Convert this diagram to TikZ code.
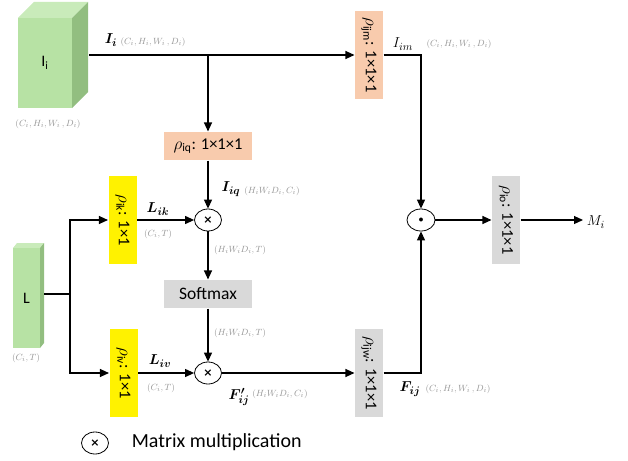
\documentclass[tikz,border=0pt]{standalone}
\usepackage{fontspec}
\setmainfont{Carlito}
\newfontfamily\symfont{DejaVu Sans}
\usepackage{amsmath}
\usepackage{graphicx}
\usetikzlibrary{arrows.meta,shapes.geometric}
\definecolor{salmon}{HTML}{F8CBAD}
\definecolor{lightgray}{HTML}{D9D9D9}
\definecolor{dimtext}{HTML}{969696}
\definecolor{cubefront}{HTML}{B7E2A4}
\definecolor{cubetop}{HTML}{C9EBBA}
\definecolor{cubeside}{HTML}{92BE80}
\newcommand{\mulsign}{{\symfont\bfseries\fontsize{11}{11}\selectfont ×}}

\begin{document}
\begin{tikzpicture}[x=1pt,y=-1pt,->,>={Triangle[length=9pt,width=8pt]},line width=1.1pt,
  conv/.style={inner sep=0pt,font=\fontsize{16.5}{18}\selectfont},
  hconv/.style={conv,minimum width=88pt,minimum height=28pt},
  vconv/.style={conv,minimum width=28pt,minimum height=88pt},
  op/.style={ellipse,draw,line width=0.8pt,fill=white,minimum width=27pt,minimum height=22pt,inner sep=0pt},
  dims/.style={text=dimtext,font=\fontsize{9.5}{10}\selectfont},
  lbl/.style={font=\fontsize{15}{17}\selectfont}]

      \useasboundingbox (0,0) rectangle (628,460);

      % input cubes
      \fill[cubetop] (18,18) -- (72,18) -- (88,2) -- (34,2) -- cycle;
      \fill[cubeside] (72,18) -- (88,2) -- (88,92) -- (72,108) -- cycle;
      \node[fill=cubefront,minimum width=54pt,minimum height=90pt,inner sep=0pt,font=\fontsize{16}{18}\selectfont] at (45,63) (Ii) {I\textsubscript{i}};
      \node[dims] at (48,124) (Iidim) {$(C_i,H_i,W_i\,,D_i)$};
      \coordinate (Iiout) at (89,55);

      \fill[cubetop] (13,248) -- (40,248) -- (44,243) -- (17,243) -- cycle;
      \fill[cubeside] (40,248) -- (44,243) -- (44,343) -- (40,348) -- cycle;
      \node[fill=cubefront,minimum width=27pt,minimum height=100pt,inner sep=0pt,font=\fontsize{16}{18}\selectfont] at (26.5,298) (L) {L};
      \node[dims] at (26,358) (Ldim) {$(C_i,T)$};
      \coordinate (Lout) at (44,294);
      \coordinate (fork) at (70,294);

      % conv blocks
      \node[vconv,fill=salmon] at (369,55) (ijm) {\rotatebox{-90}{$\rho$\textsubscript{ijm}: 1×1×1}};
      \node[hconv,fill=salmon] at (208,146) (iq) {$\rho$\textsubscript{iq}: 1×1×1};
      \node[vconv,fill=yellow] at (122.5,220) (ik) {\rotatebox{-90}{$\rho$\textsubscript{ik}: 1×1}};
      \node[vconv,fill=yellow] at (123.5,373) (iv) {\rotatebox{-90}{$\rho$\textsubscript{iv}: 1×1}};
      \node[hconv,fill=lightgray,font=\fontsize{17.5}{19}\selectfont] at (208,294) (softmax) {Softmax};
      \node[vconv,fill=lightgray] at (369,373) (ijw) {\rotatebox{-90}{$\rho$\textsubscript{ijw}: 1×1×1}};
      \node[vconv,fill=lightgray] at (506,220) (io) {\rotatebox{-90}{$\rho$\textsubscript{io}: 1×1×1}};

      % operators
      \node[op] at (208,220) (mul1) {\mulsign};
      \node[op] at (208,373) (mul2) {\mulsign};
      \node[op,minimum width=28pt] at (421,220) (odot) {$\bullet$};
      \node[lbl,anchor=west] at (583,222) (Mi) {$M_i$};
      \coordinate (split) at (208,55);

      % labels
      \node[lbl] at (111,40) (Iilbl) {$\boldsymbol{I_i}$};
      \node[dims] at (153,42) (Iilbldim) {$(C_i,H_i,W_i\,,D_i)$};
      \node[lbl] at (403,44) (Iimlbl) {$I_{im}$};
      \node[dims] at (459,44) (Iimdim) {$(C_i,H_i,W_i\,,D_i)$};
      \node[lbl] at (231,189) (Iiqlbl) {$\boldsymbol{I_{iq}}$};
      \node[dims] at (272,191) (Iiqdim) {$(H_iW_iD_i,C_i)$};
      \node[lbl] at (158,209) (Liklbl) {$\boldsymbol{L_{ik}}$};
      \node[dims] at (158,234) (Likdim) {$(C_i,T)$};
      \node[dims] at (240,250) (mul1dim) {$(H_iW_iD_i,T)$};
      \node[dims] at (240,333) (softdim) {$(H_iW_iD_i,T)$};
      \node[lbl] at (160,361) (Livlbl) {$\boldsymbol{L_{iv}}$};
      \node[dims] at (161,388) (Livdim) {$(C_i,T)$};
      \node[lbl] at (239,397) (Fplbl) {$\boldsymbol{F'_{ij}}$};
      \node[dims] at (280,394) (Fpdim) {$(H_iW_iD_i,C_i)$};
      \node[lbl] at (410,389) (Flbl) {$\boldsymbol{F_{ij}}$};
      \node[dims] at (458,389) (Fdim) {$(C_i,H_i,W_i\,,D_i)$};

      % legend
      \node[op] at (95,443) (legop) {\mulsign};
      \node[anchor=west,font=\fontsize{20}{24}\selectfont] at (128,442) (legtxt) {Matrix multiplication};

      % connectors
      \draw[-] (Iiout) -- (split);
      \draw (split) -- (ijm);
      \draw (split) -- (iq);
      \draw (ijm.east) -| (odot.north);
      \draw (odot) -- (io);
      \draw (io) -- (io -| Mi.west);
      \draw (iq) -- (mul1);
      \draw (ik) -- (mul1);
      \draw (mul1) -- (softmax);
      \draw (softmax) -- (mul2);
      \draw (iv) -- (mul2);
      \draw (mul2) -- (ijw);
      \draw (ijw.east) -| (odot.south);
      \draw[-] (Lout) -- (fork);
      \draw (fork) |- (ik);
      \draw (fork) |- (iv);

    \end{tikzpicture}
\end{document}
